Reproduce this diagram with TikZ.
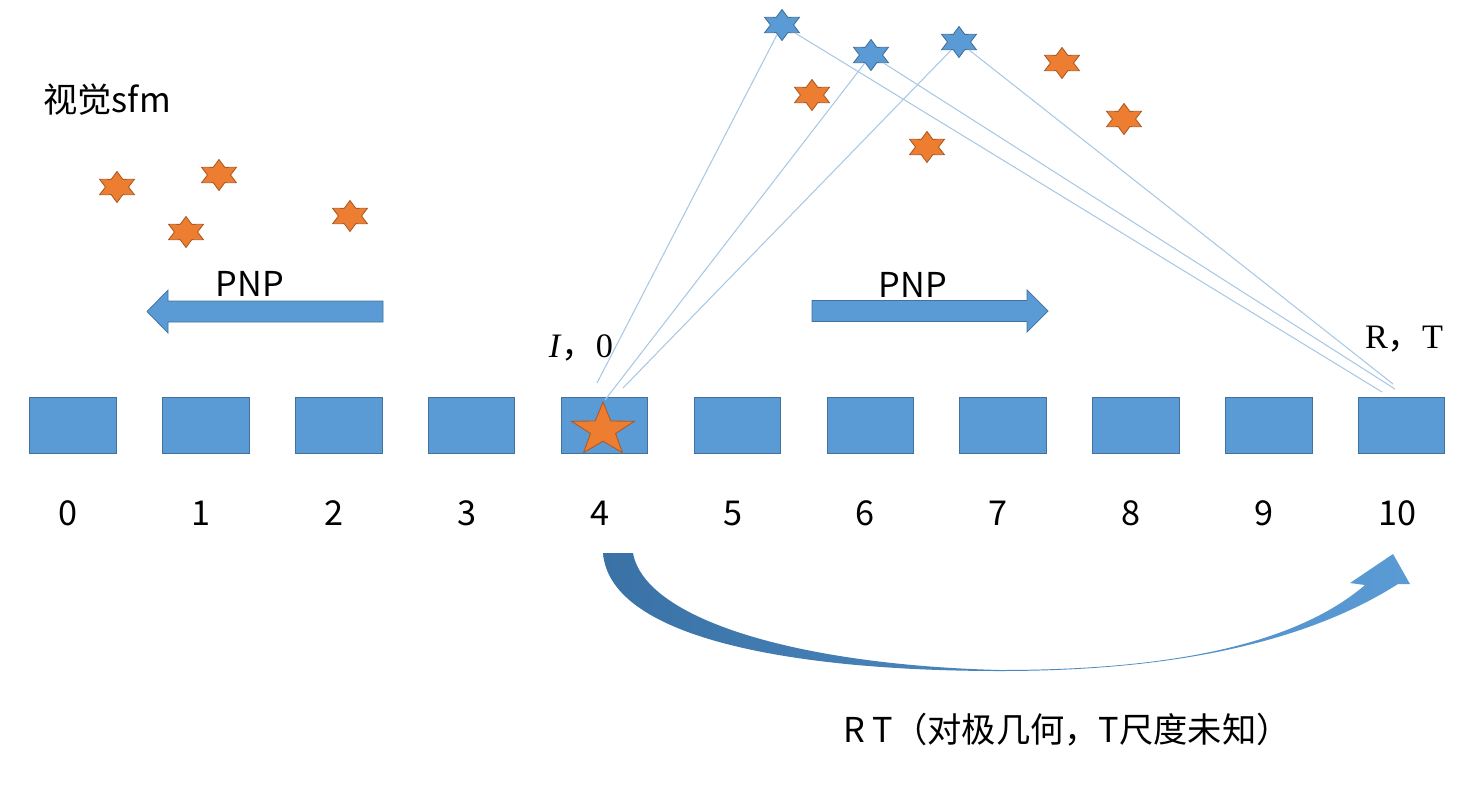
\documentclass[tikz,border=0pt]{standalone}
\usepackage{fontspec}
\usepackage{tikz}
\usetikzlibrary{shapes.geometric}
\newfontfamily\cjk{Noto Sans CJK SC}
\newfontfamily\rmlabel{Liberation Serif}
\definecolor{boxblue}{HTML}{5B9BD5}
\definecolor{boxline}{HTML}{41719C}
\definecolor{starorange}{HTML}{ED7D31}
\definecolor{starline}{HTML}{AE5A21}
\definecolor{raylight}{HTML}{A8C8E6}
\definecolor{arcdark}{HTML}{3A72A6}

\begin{document}
\begin{tikzpicture}[x=0.02cm, y=-0.02cm]
\tikzstyle{frame}=[draw=boxline, fill=boxblue, minimum width=1.73cm, minimum height=1.12cm, inner sep=0]
\tikzstyle{pt}=[star, star points=6, star point ratio=1.75, minimum size=0.62cm, inner sep=0, xscale=1.3, line width=0.5pt]
\tikzstyle{landmark}=[pt, draw=starline, fill=starorange]
\tikzstyle{tracked}=[pt, draw=boxline, fill=boxblue]
\tikzstyle{lbl}=[font=\cjk\fontsize{19.5}{21}\selectfont, inner sep=0]
\tikzstyle{serif}=[font=\rmlabel\fontsize{19.5}{21}\selectfont, inner sep=0]
\tikzstyle{ray}=[draw=raylight, line width=0.6pt]

\useasboundingbox (0,0) rectangle (1463,795);

\foreach \i in {0,...,10} {
  \node[frame] (f\i) at (73+132.85*\i,425) {};
  \node[lbl] (n\i) at (68+132.9*\i,513) {\i};
}
\node[star, star points=5, star point ratio=2.5, minimum size=1.12cm, inner sep=0, xscale=1.18,
  draw=starline, fill=starorange, line width=0.5pt] (origin) at (603,430) {};

\node[lbl, anchor=west] (title) at (43,100) {视觉sfm};

\node[landmark] (p1) at (117,187) {};
\node[landmark] (p2) at (219,175) {};
\node[landmark] (p3) at (186,232) {};
\node[landmark] (p4) at (350,216) {};
\node[landmark] (p5) at (812,95) {};
\node[landmark] (p6) at (927,147) {};
\node[landmark] (p7) at (1062,63) {};
\node[landmark] (p8) at (1124,119) {};

\coordinate (la1) at (597,383);
\coordinate (la2) at (605,400);
\coordinate (la3) at (623,388);
\coordinate (lb1) at (1382,392);
\coordinate (lb2) at (1395,389);
\coordinate (lb3) at (1393,384);

\node[tracked] (t1) at (782,25) {};
\node[tracked] (t2) at (871,55) {};
\node[tracked] (t3) at (959,42) {};

\foreach \k in {1,2,3} {
  \draw[ray] (t\k) -- (la\k);
  \draw[ray] (t\k) -- (lb\k);
}

\fill[boxblue, draw=boxline, line width=0.4pt] (383,301) -- (168,301) -- (168,290) -- (147,311.5) -- (168,333) -- (168,322) -- (383,322) -- cycle;
\node[lbl] (pnpl) at (250,284) {PNP};
\fill[boxblue, draw=boxline, line width=0.4pt] (812,300.5) -- (1027,300.5) -- (1027,290) -- (1048,311) -- (1027,332) -- (1027,321.5) -- (812,321.5) -- cycle;
\node[lbl] (pnpr) at (913,285) {PNP};

\node[serif] (init) at (581,348) {\textit{I}{\cjk ，}0};
\node[serif] (pose) at (1404,339) {R{\cjk ，}T};

\shade[left color=arcdark, right color=boxblue]
  (603,553) .. controls (610,640) and (800,671) .. (1000,671)
  .. controls (1180,671) and (1310,640) .. (1398,584)
  -- (1410,584) -- (1393,554) -- (1350,583) -- (1365,585)
  .. controls (1280,658) and (1120,670) .. (1000,670)
  .. controls (800,665) and (645,620) .. (633,553) -- cycle;

\node[lbl, anchor=west] (epi) at (843,730) {R T（对极几何，T尺度未知）};
\end{tikzpicture}
\end{document}
